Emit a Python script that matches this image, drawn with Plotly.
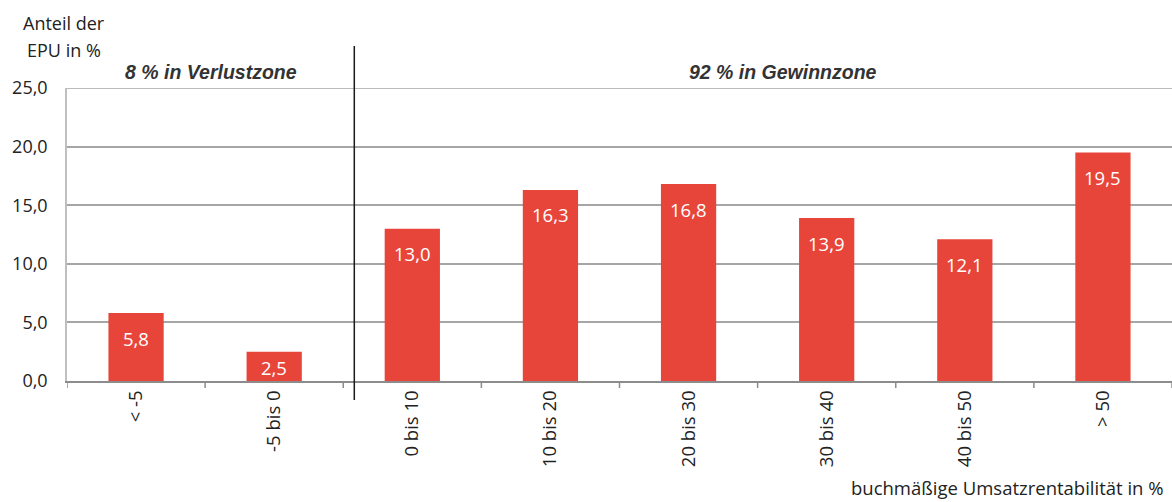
import plotly.graph_objects as go

categories = ["< -5", "-5 bis 0", "0 bis 10", "10 bis 20", "20 bis 30", "30 bis 40", "40 bis 50", "> 50"]
values = [5.8, 2.5, 13.0, 16.3, 16.8, 13.9, 12.1, 19.5]
y_ticks = [0, 5, 10, 15, 20, 25]
y_tick_labels = ["0,0", "5,0", "10,0", "15,0", "20,0", "25,0"]
zone_labels = ["8 % in Verlustzone", "92 % in Gewinnzone"]

BAR = "#E8453A"
GRID = "#A6A6A6"
FONT = "Open Sans"

# plot area in pixels (figure is 1172 x 502)
L, R, T, B = 67, 0, 88, 121
PW, PH = 1172 - L - R, 502 - T - B
Y_MAX = 25


def px_x(x):
    return (x - L) / PW


def px_y(y):
    return (502 - B - y) / PH


xs = list(range(len(categories)))

fig = go.Figure()
fig.add_trace(go.Bar(
    x=xs,
    y=values,
    width=0.4,
    marker=dict(color=BAR, line=dict(width=0)),
    hoverinfo="skip",
))

# value labels inside the bar tops (centred in the bar when it is short)
for x, v in zip(xs, values):
    bar_px = v / Y_MAX * PH
    fig.add_annotation(x=x, y=v, xref="x", yref="y", yanchor="middle",
                       yshift=-min(25, bar_px / 2 + 1),
                       text=f"{v:.1f}".replace(".", ","), showarrow=False,
                       font=dict(family=FONT, size=18.5, color="white"))

fig.update_layout(
    width=1172, height=502,
    margin=dict(l=L, r=R, t=T, b=B),
    paper_bgcolor="white", plot_bgcolor="white",
    showlegend=False,
    xaxis=dict(
        range=[-0.5, len(categories) - 0.5],
        tickmode="array",
        tickvals=xs,
        ticktext=categories,
        tickangle=-90,
        tickfont=dict(family=FONT, size=18.5, color="#222"),
        showgrid=False,
        showline=True, linecolor="#8C8C8C", linewidth=2,
        ticks="", zeroline=False,
    ),
    yaxis=dict(
        range=[0, Y_MAX],
        tickmode="array",
        tickvals=y_ticks,
        ticktext=y_tick_labels,
        tickfont=dict(family=FONT, size=18, color="#222"),
        ticklabelstandoff=14,
        showgrid=True, gridcolor=GRID, gridwidth=1.5,
        showline=True, linecolor="#BFBFBF", linewidth=1.5,
        zeroline=False, ticks="", ticklen=0,
    ),
)

# top gridline at 25
fig.add_shape(type="line", xref="paper", yref="y", x0=0, x1=1, y0=Y_MAX, y1=Y_MAX,
              line=dict(color=GRID, width=1.5), layer="below")

# category boundary tick marks below the axis
for i in range(len(categories) + 1):
    fig.add_shape(type="line", xref="x", yref="paper",
                  x0=i - 0.5, x1=i - 0.5, y0=0, y1=px_y(388),
                  line=dict(color="#8C8C8C", width=1.5))

# divider between loss and profit zones
fig.add_shape(type="line", xref="x", yref="paper",
              x0=1.58, x1=1.58, y0=px_y(400), y1=px_y(46),
              line=dict(color="#1A1A1A", width=1.5))

fig.add_annotation(x=0.543, y=px_y(72), xref="x", yref="paper", yanchor="middle",
                   text=f"<b><i>{zone_labels[0]}</i></b>", showarrow=False,
                   font=dict(family="Liberation Sans", size=19.5, color="#333"))
fig.add_annotation(x=4.684, y=px_y(72), xref="x", yref="paper", yanchor="middle",
                   text=f"<b><i>{zone_labels[1]}</i></b>", showarrow=False,
                   font=dict(family="Liberation Sans", size=19.5, color="#333"))

fig.add_annotation(x=px_x(64), y=px_y(23), xref="paper", yref="paper",
                   xanchor="center", yanchor="middle",
                   text="Anteil der", showarrow=False,
                   font=dict(family=FONT, size=18, color="#222"))
fig.add_annotation(x=px_x(64), y=px_y(50), xref="paper", yref="paper",
                   xanchor="center", yanchor="middle",
                   text="EPU in %", showarrow=False,
                   font=dict(family=FONT, size=18, color="#222"))

fig.add_annotation(x=px_x(1166), y=px_y(488), xref="paper", yref="paper",
                   xanchor="right", yanchor="middle",
                   text="buchmäßige Umsatzrentabilität in %", showarrow=False,
                   font=dict(family=FONT, size=18.5, color="#222"))

fig.write_html("out.html")
